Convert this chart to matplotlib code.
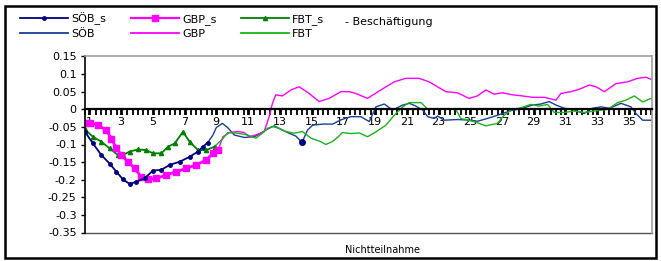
import matplotlib
matplotlib.use("Agg")
import matplotlib.pyplot as plt
from matplotlib.lines import Line2D
from matplotlib.patches import Rectangle
import numpy as np

# smoothed series (with markers), early months only
sob_s_x = [0.73, 1.23, 1.76, 2.28, 2.70, 3.12, 3.54, 3.96, 4.49, 5.01, 5.54, 6.06, 6.69, 7.32, 7.85, 8.16, 8.46]
sob_s_y = [-0.064, -0.097, -0.130, -0.154, -0.177, -0.199, -0.212, -0.206, -0.196, -0.174, -0.172, -0.158, -0.149, -0.135, -0.120, -0.106, -0.095]
sob_s_extra_x = [14.40]
sob_s_extra_y = [-0.094]

gbp_s_x = [0.71, 1.03, 1.55, 2.07, 2.39, 2.70, 3.02, 3.44, 3.86, 4.28, 4.70, 5.22, 5.85, 6.48, 7.11, 7.74, 8.37, 8.79, 9.11]
gbp_s_y = [-0.038, -0.038, -0.045, -0.059, -0.083, -0.111, -0.130, -0.149, -0.168, -0.192, -0.199, -0.196, -0.187, -0.177, -0.168, -0.158, -0.144, -0.125, -0.116]

fbt_s_x = [0.71, 1.23, 1.76, 2.28, 2.81, 3.12, 3.54, 4.07, 4.59, 5.01, 5.54, 5.96, 6.38, 6.90, 7.32, 7.85, 8.37, 8.89]
fbt_s_y = [-0.057, -0.078, -0.092, -0.111, -0.130, -0.130, -0.120, -0.114, -0.116, -0.125, -0.125, -0.106, -0.097, -0.064, -0.092, -0.116, -0.116, -0.106]

# raw series
sob_x = [8.46, 8.79, 9.00, 9.38, 9.72, 10.13, 10.76, 11.39, 11.81, 12.23, 12.65, 13.07, 13.49, 14.01, 14.40,
         14.75, 15.07, 15.70, 16.33, 16.85, 17.48, 18.11, 18.64, 19.06, 19.58, 20.11, 20.74, 21.16, 21.58,
         22.00, 22.32, 22.73, 22.94, 23.36, 24.19, 25.03, 25.45, 26.08, 26.71, 27.55, 28.29, 28.92, 29.45,
         29.97, 30.40, 30.92, 31.55, 32.18, 32.71, 33.24, 33.76, 34.50, 35.12, 35.44, 35.86, 36.40]
sob_y = [-0.095, -0.073, -0.052, -0.040, -0.052, -0.073, -0.080, -0.078, -0.068, -0.056, -0.047, -0.057, -0.066, -0.076, -0.094,
         -0.059, -0.045, -0.042, -0.042, -0.030, -0.021, -0.021, -0.035, 0.007, 0.015, -0.002, 0.012, 0.017, 0.009,
         -0.002, -0.021, -0.026, -0.019, -0.031, -0.029, -0.031, -0.034, -0.026, -0.017, -0.004, 0.003, 0.012, 0.015,
         0.022, 0.012, 0.003, -0.002, -0.012, 0.003, 0.007, 0.003, 0.017, 0.007, -0.012, -0.031, -0.031]

gbp_x = [9.11, 9.42, 9.84, 10.34, 10.76, 11.07, 11.49, 12.02, 12.33, 12.54, 12.75, 13.17, 13.70, 14.22, 14.85,
         15.48, 16.11, 16.85, 17.38, 17.79, 18.53, 19.37, 20.21, 20.94, 21.78, 22.41, 23.46, 24.19, 24.93,
         25.45, 25.98, 26.50, 27.03, 27.66, 28.29, 28.92, 29.66, 30.40, 30.71, 31.34, 31.87, 32.50, 32.92,
         33.45, 34.18, 34.91, 35.54, 36.07, 36.40]
gbp_y = [-0.116, -0.078, -0.066, -0.063, -0.066, -0.078, -0.073, -0.063, -0.021, 0.017, 0.041, 0.038, 0.055, 0.064, 0.045,
         0.022, 0.031, 0.050, 0.050, 0.045, 0.031, 0.055, 0.078, 0.088, 0.088, 0.078, 0.050, 0.047, 0.031,
         0.038, 0.055, 0.043, 0.047, 0.041, 0.038, 0.034, 0.034, 0.026, 0.045, 0.050, 0.057, 0.069, 0.064,
         0.050, 0.073, 0.078, 0.088, 0.091, 0.085]

fbt_x = [8.89, 9.42, 9.72, 10.34, 10.97, 11.49, 11.91, 12.23, 12.54, 12.96, 13.38, 13.91, 14.43, 14.96, 15.59,
         15.90, 16.30, 16.64, 16.95, 17.48, 18.01, 18.53, 19.06, 19.69, 20.21, 20.74, 21.16, 21.90, 22.32,
         23.36, 24.09, 24.40, 25.24, 25.98, 26.71, 27.13, 27.66, 28.18, 28.81, 29.34, 29.87, 30.29, 30.92,
         31.55, 32.18, 32.81, 33.66, 34.29, 34.81, 35.33, 35.86, 36.40]
fbt_y = [-0.106, -0.083, -0.066, -0.068, -0.073, -0.082, -0.068, -0.054, -0.049, -0.054, -0.063, -0.068, -0.063, -0.082, -0.092,
         -0.100, -0.092, -0.080, -0.066, -0.069, -0.067, -0.078, -0.064, -0.045, -0.017, 0.007, 0.019, 0.019, 0.0,
         0.0, 0.0, -0.026, -0.035, -0.047, -0.040, -0.017, 0.0, 0.004, 0.014, 0.009, 0.014, -0.009, -0.009,
         -0.005, -0.009, -0.005, 0.0, 0.019, 0.026, 0.038, 0.021, 0.031]

x_labels = list(range(1, 37, 2))
y_ticks = [0.15, 0.1, 0.05, 0, -0.05, -0.1, -0.15, -0.2, -0.25, -0.3, -0.35]

navy = "#000080"
blue = "#1a3f95"
magenta = "#ff00ff"
dgreen = "#008000"
green = "#19b419"

plt.rcParams["font.family"] = ["DejaVu Sans"]
plt.rcParams["font.size"] = 8

fig = plt.figure(figsize=(6.61, 2.61), dpi=100)
ax = fig.add_axes([85 / 661, 1 - 232.5 / 261, (652 - 85) / 661, (232.5 - 56.5) / 261])

# raw lines first, smoothed on top
ax.plot(sob_x, sob_y, color=blue, lw=1.0)
ax.plot(gbp_x, gbp_y, color=magenta, lw=1.0)
ax.plot(fbt_x, fbt_y, color=green, lw=1.0)
ax.plot(fbt_s_x, fbt_s_y, color=dgreen, lw=1.3, marker="^", ms=3, mfc=dgreen, mec=dgreen)
ax.plot(gbp_s_x, gbp_s_y, color=magenta, lw=2.0, marker="s", ms=4.5, mfc=magenta, mec=magenta)
ax.plot(sob_s_x, sob_s_y, color=navy, lw=1.3, marker="o", ms=2.5, mfc=navy, mec=navy)
ax.plot(sob_s_extra_x, sob_s_extra_y, color=navy, lw=0, marker="o", ms=4, mfc=navy, mec=navy)

ax.set_xlim(0.73, 36.45)
ax.set_ylim(-0.35, 0.15)
ax.set_yticks(y_ticks)
ax.set_yticklabels([f"{v:g}" for v in y_ticks])
ax.set_xticks(x_labels)
ax.set_xticklabels([str(v) for v in x_labels])
ax.set_xticks(np.arange(0.73, 36.45, 1 / 3), minor=True)

ax.spines["bottom"].set_position(("data", 0))
ax.spines["bottom"].set_linewidth(1.6)
ax.spines["bottom"].set_color("black")
ax.spines["left"].set_color("black")
ax.spines["left"].set_linewidth(1.2)
for s in ["top", "right"]:
    ax.spines[s].set_color("#a0a0a0")
    ax.spines[s].set_linewidth(1.2)
ax.axhline(-0.35, color="#555555", lw=1.0, clip_on=False, zorder=0)

ax.tick_params(axis="x", which="both", direction="out", length=4, width=1.3, color="black", pad=1.5, labelsize=8)
ax.tick_params(axis="y", direction="out", length=3, width=1, pad=3, labelsize=8)

fig.text(383 / 661, 1 - 250 / 261, "Nichtteilnahme", ha="center", va="center", fontsize=7)

handles = [
    Line2D([], [], color=navy, lw=1.3, marker="o", ms=2.5),
    Line2D([], [], color=blue, lw=1.3),
    Line2D([], [], color=magenta, lw=1.6, marker="s", ms=4.5),
    Line2D([], [], color=magenta, lw=1.3),
    Line2D([], [], color=dgreen, lw=1.3, marker="^", ms=3),
    Line2D([], [], color=green, lw=1.3),
]
labels = ["SÖB_s", "SÖB", "GBP_s", "GBP", "FBT_s", "FBT"]
fig.legend(handles, labels, ncol=3, loc="upper left", bbox_to_anchor=(16 / 661, 1 - 8 / 261),
           frameon=False, handlelength=4.3, handletextpad=0.3, columnspacing=2.2,
           labelspacing=0.35, borderaxespad=0, fontsize=8)
fig.text(345 / 661, 1 - 22 / 261, "- Beschäftigung", ha="left", va="center", fontsize=8)

fig.add_artist(Rectangle((5 / 661, 3 / 261), 651 / 661, 252 / 261, transform=fig.transFigure,
                         fill=False, edgecolor="black", lw=1.8))

fig.savefig("out.png", dpi=100)
